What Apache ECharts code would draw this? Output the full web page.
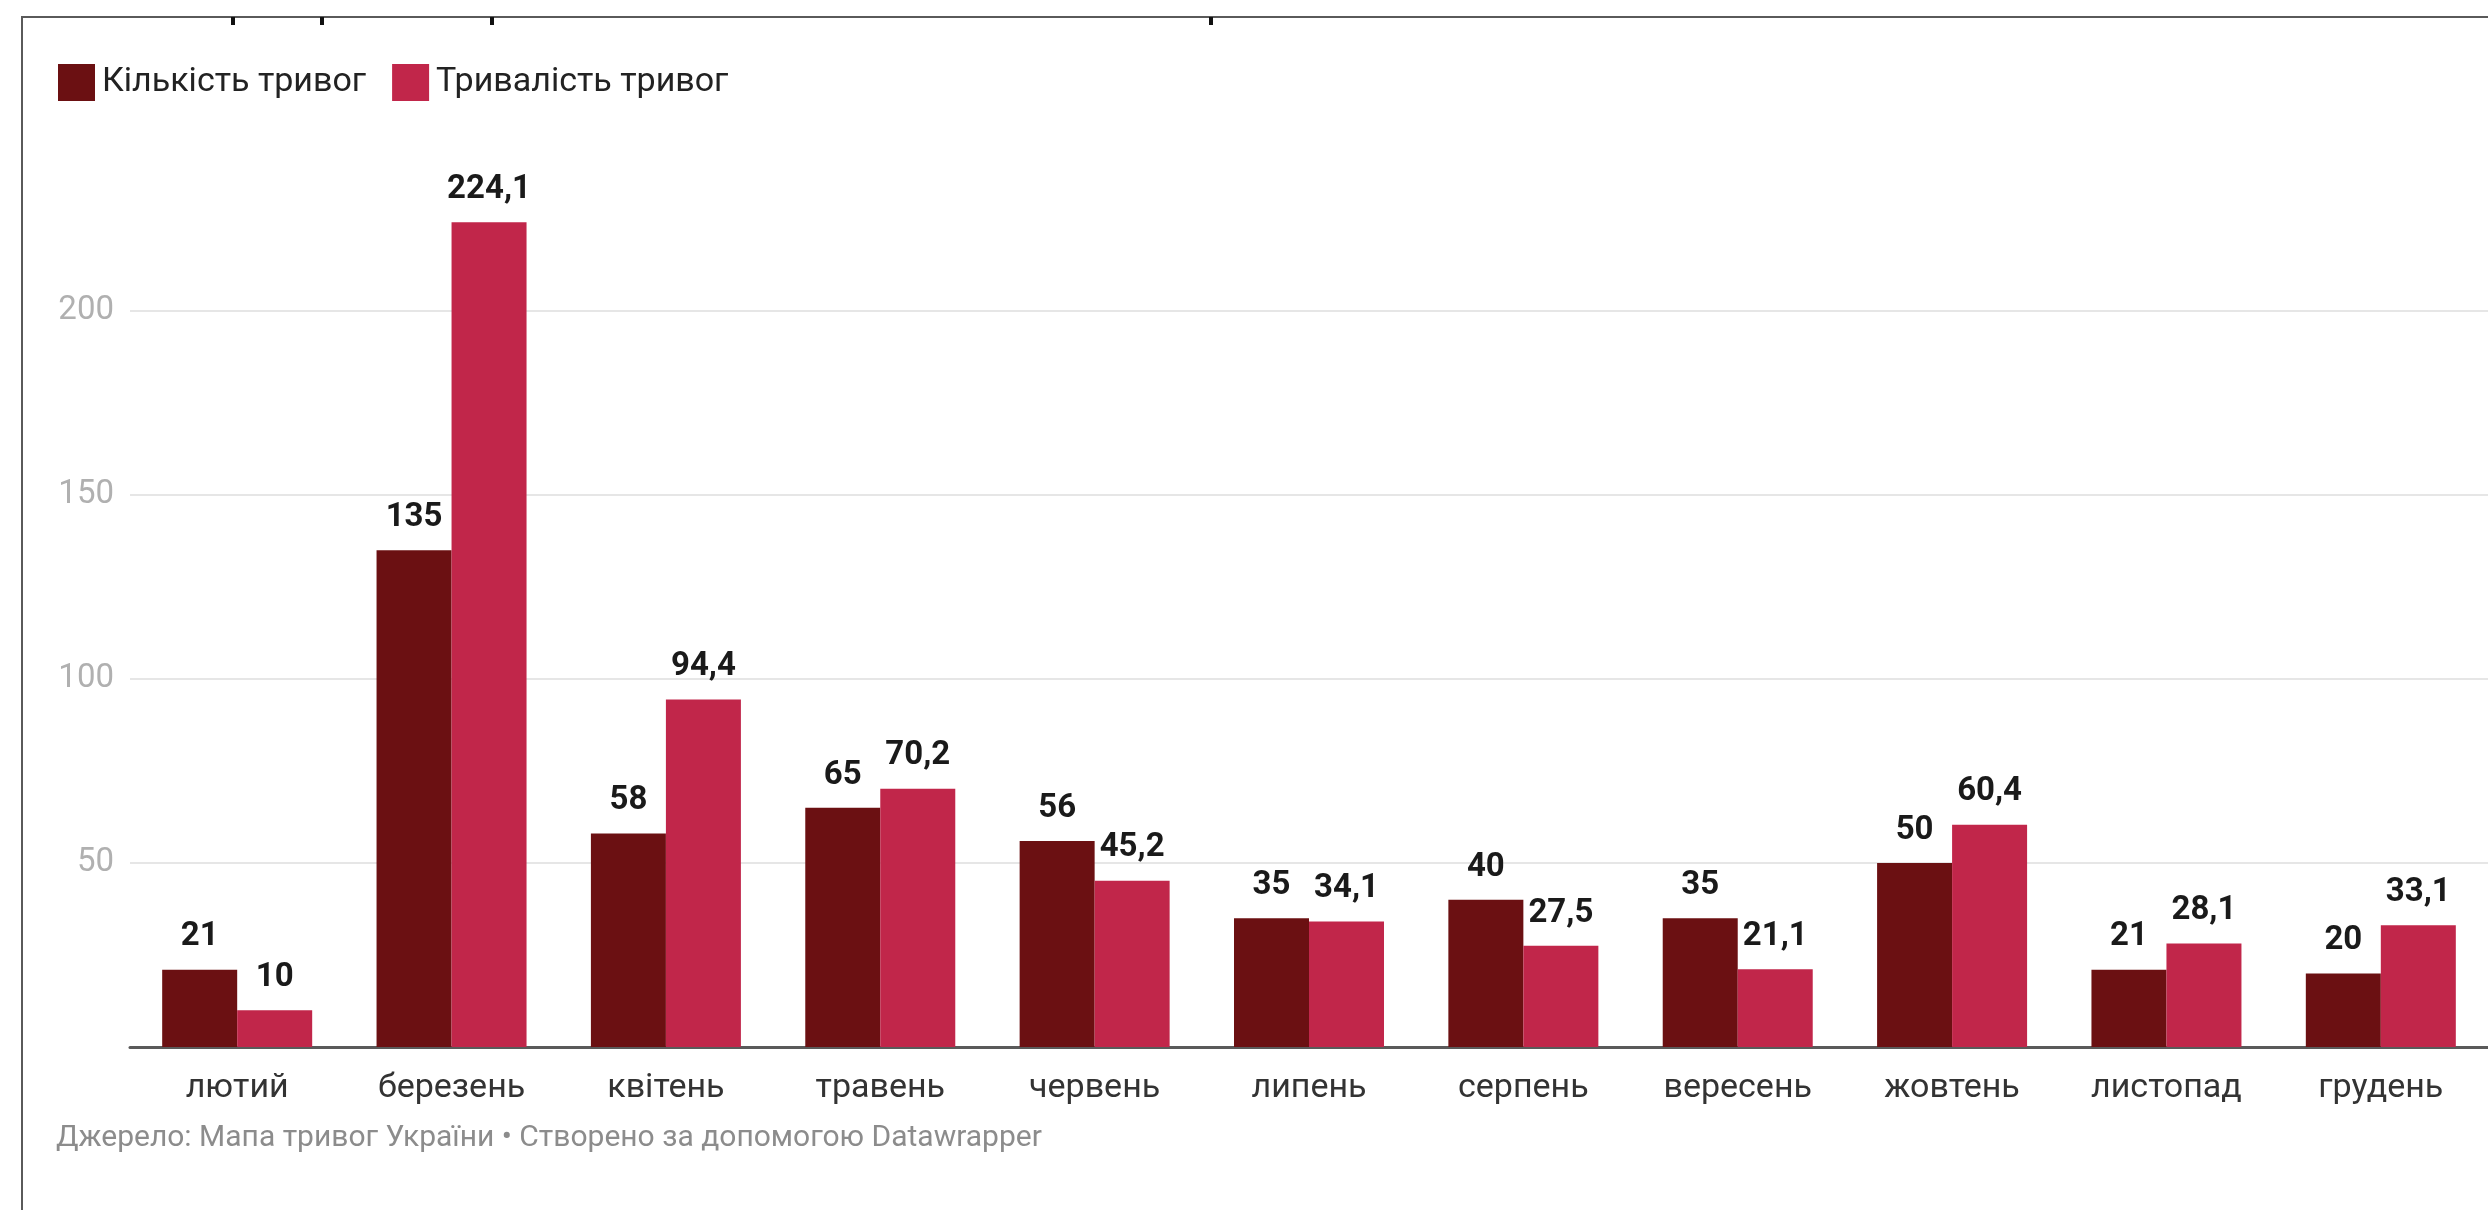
<!DOCTYPE html>
<html>
<head>
<meta charset="utf-8">
<script src="https://cdn.jsdelivr.net/npm/echarts@6/dist/echarts.min.js"></script>
<style>
  html, body { margin: 0; padding: 0; background: #fff; }
  #chart { width: 2488px; height: 1210px; }
</style>
</head>
<body>
<div id="chart"></div>
<script>
// місяці
const months = ['лютий', 'березень', 'квітень', 'травень', 'червень', 'липень',
  'серпень', 'вересень', 'жовтень', 'листопад', 'грудень']
const countAlerts = [21, 135, 58, 65, 56, 35, 40, 35, 50, 21, 20]
const durationAlerts = [10, 224.1, 94.4, 70.2, 45.2, 34.1, 27.5, 21.1, 60.4, 28.1, 33.1]
const seriesNames = ['Кількість тривог', 'Тривалість тривог']
const yTicks = [0, 50, 100, 150, 200, 250]

const dark = '#6b1012'
const pink = '#c1264a'
const font = 'Roboto'

let chart = echarts.init(document.getElementById('chart'))

function fmt (v) {
  return String(v).replace('.', ',')
}

let labelStyle = {
  show: true,
  position: 'top',
  distance: 16,
  fontFamily: font,
  fontWeight: 'bold',
  fontSize: 33,
  color: '#1a1a1a',
  formatter: function (p) { return fmt(p.value) }
}

let option = {
  backgroundColor: '#fff',
  animation: false,
  textStyle: { fontFamily: font },
  legend: {
    left: 58,
    top: 64,
    padding: 0,
    itemWidth: 37,
    itemHeight: 37,
    itemGap: 26,
    icon: 'rect',
    textStyle: { fontSize: 34, color: '#222', padding: [0, 0, 0, 2] },
    data: seriesNames
  },
  grid: {
    left: 130,
    right: -16,
    top: 127,
    bottom: 163
  },
  xAxis: {
    type: 'category',
    data: months,
    axisTick: { show: false },
    axisLine: { lineStyle: { color: '#5a5a5a', width: 3 } },
    axisLabel: { color: '#333', fontSize: 34, margin: 24 }
  },
  yAxis: {
    type: 'value',
    min: yTicks[0],
    max: yTicks[yTicks.length - 1],
    interval: 50,
    axisLine: { show: false },
    axisTick: { show: false },
    axisLabel: {
      color: '#b0b0b0',
      fontSize: 33,
      margin: 16,
      showMinLabel: false,
      showMaxLabel: false
    },
    splitLine: {
      showMinLine: false,
      showMaxLine: false,
      lineStyle: { color: '#e6e6e6', width: 2 }
    }
  },
  series: [
    {
      name: seriesNames[0],
      type: 'bar',
      data: countAlerts,
      barWidth: 75,
      barGap: '0%',
      itemStyle: { color: dark },
      label: labelStyle
    },
    {
      name: seriesNames[1],
      type: 'bar',
      data: durationAlerts,
      barWidth: 75,
      barGap: '0%',
      itemStyle: { color: pink },
      label: labelStyle
    }
  ],
  graphic: [
    // рамка скріншота
    {
      type: 'polyline',
      shape: { points: [[22, 1210], [22, 17], [2488, 17]] },
      style: { stroke: '#5a5a5a', lineWidth: 2, fill: null }
    },
    // обрізані хвостики заголовка
    { type: 'rect', shape: { x: 231, y: 17, width: 4, height: 8 }, style: { fill: '#111' } },
    { type: 'rect', shape: { x: 320, y: 17, width: 4, height: 8 }, style: { fill: '#111' } },
    { type: 'rect', shape: { x: 490, y: 17, width: 4, height: 8 }, style: { fill: '#111' } },
    { type: 'rect', shape: { x: 1209, y: 17, width: 4, height: 8 }, style: { fill: '#111' } },
    {
      type: 'text',
      x: 56,
      y: 1138,
      style: {
        text: 'Джерело: Мапа тривог України • Створено за допомогою Datawrapper',
        fontFamily: font,
        fontSize: 30,
        fill: '#8c8c8c',
        verticalAlign: 'middle'
      }
    }
  ]
}

chart.setOption(option)
</script>
</body>
</html>
